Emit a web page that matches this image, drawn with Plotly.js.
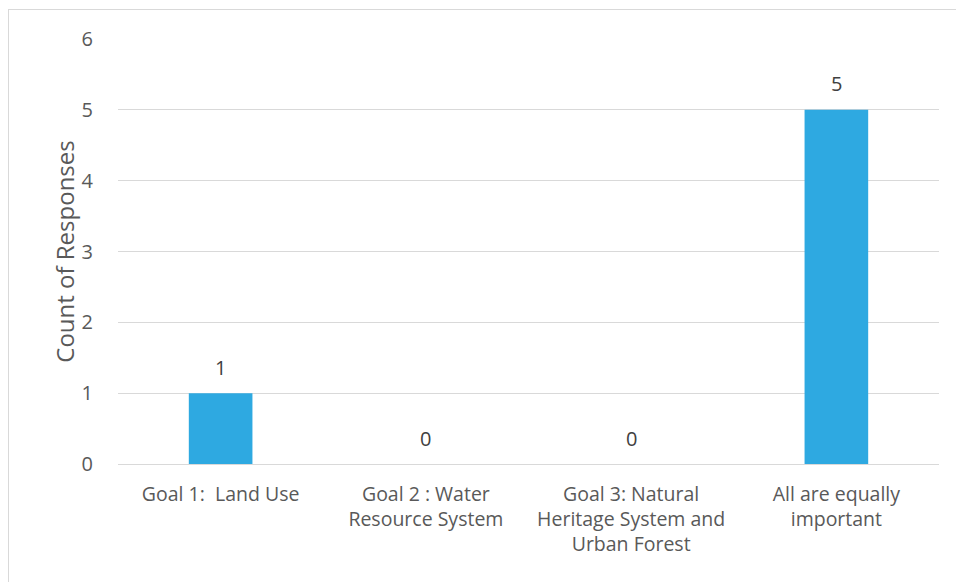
<!DOCTYPE html>
<html>
<head>
<meta charset="utf-8">
<script src="https://cdn.plot.ly/plotly-3.0.1.min.js"></script>
<style>
  html, body { margin: 0; padding: 0; background: #ffffff; overflow: hidden; }
  #wrap { position: relative; width: 956px; height: 582px; }
  #chart { width: 956px; height: 582px; }
  #frame {
    position: absolute; left: 8px; top: 9px; width: 960px; height: 600px;
    border-top: 1px solid #d9d9d9; border-left: 1px solid #d9d9d9;
    pointer-events: none;
  }
</style>
</head>
<body>
<div id="wrap">
  <div id="chart"></div>
  <div id="frame"></div>
</div>
<script>
// Survey responses: which goal matters most
const categories = [
  "Goal 1:\u00a0 Land Use",
  "Goal 2 : Water<br>Resource System",
  "Goal 3: Natural<br>Heritage System and<br>Urban Forest",
  "All are equally<br>important"
];
const responseCounts = [1, 0, 0, 5];
const yTickValues = [0, 1, 2, 3, 4, 5, 6];

const textColor = "#595959";
const labelColor = "#404040";
const gridColor = "#d9d9d9";
const barColor = "#2EA9E1";
const fontFamily = "'Open Sans', 'Noto Sans', sans-serif";

const trace = {
  type: "bar",
  x: categories,
  y: responseCounts,
  marker: { color: barColor, line: { width: 0 } },
  hoverinfo: "x+y"
};

// value labels sit a little above each bar top
const valueLabels = categories.map((c, i) => ({
  x: c,
  y: responseCounts[i],
  xref: "x",
  yref: "y",
  text: String(responseCounts[i]),
  showarrow: false,
  yanchor: "middle",
  yshift: 26,
  font: { family: fontFamily, size: 20, color: labelColor }
}));

const layout = {
  width: 956,
  height: 582,
  margin: { l: 118, r: 17, t: 39, b: 118, pad: 0 },
  paper_bgcolor: "#ffffff",
  plot_bgcolor: "#ffffff",
  bargap: 0.69,
  showlegend: false,
  font: { family: fontFamily, size: 20, color: textColor },
  annotations: valueLabels,
  xaxis: {
    type: "category",
    tickfont: { family: fontFamily, size: 19.5, color: textColor },
    showgrid: false,
    showline: false,
    ticks: "",
    ticklabelstandoff: 16,
    automargin: false,
    tickangle: 0
  },
  yaxis: {
    range: [0, 6],
    tickvals: yTickValues,
    ticktext: yTickValues.map(String),
    showgrid: true,
    gridcolor: gridColor,
    gridwidth: 1,
    zeroline: true,
    zerolinecolor: gridColor,
    zerolinewidth: 1,
    showline: false,
    ticks: "",
    ticklabelstandoff: 24,
    automargin: false,
    tickfont: { family: fontFamily, size: 20, color: textColor },
    title: {
      text: "Count of Responses",
      font: { family: fontFamily, size: 24, color: textColor },
      standoff: 0
    }
  }
};

Plotly.newPlot("chart", [trace], layout, { displayModeBar: false, staticPlot: true });
</script>
</body>
</html>
